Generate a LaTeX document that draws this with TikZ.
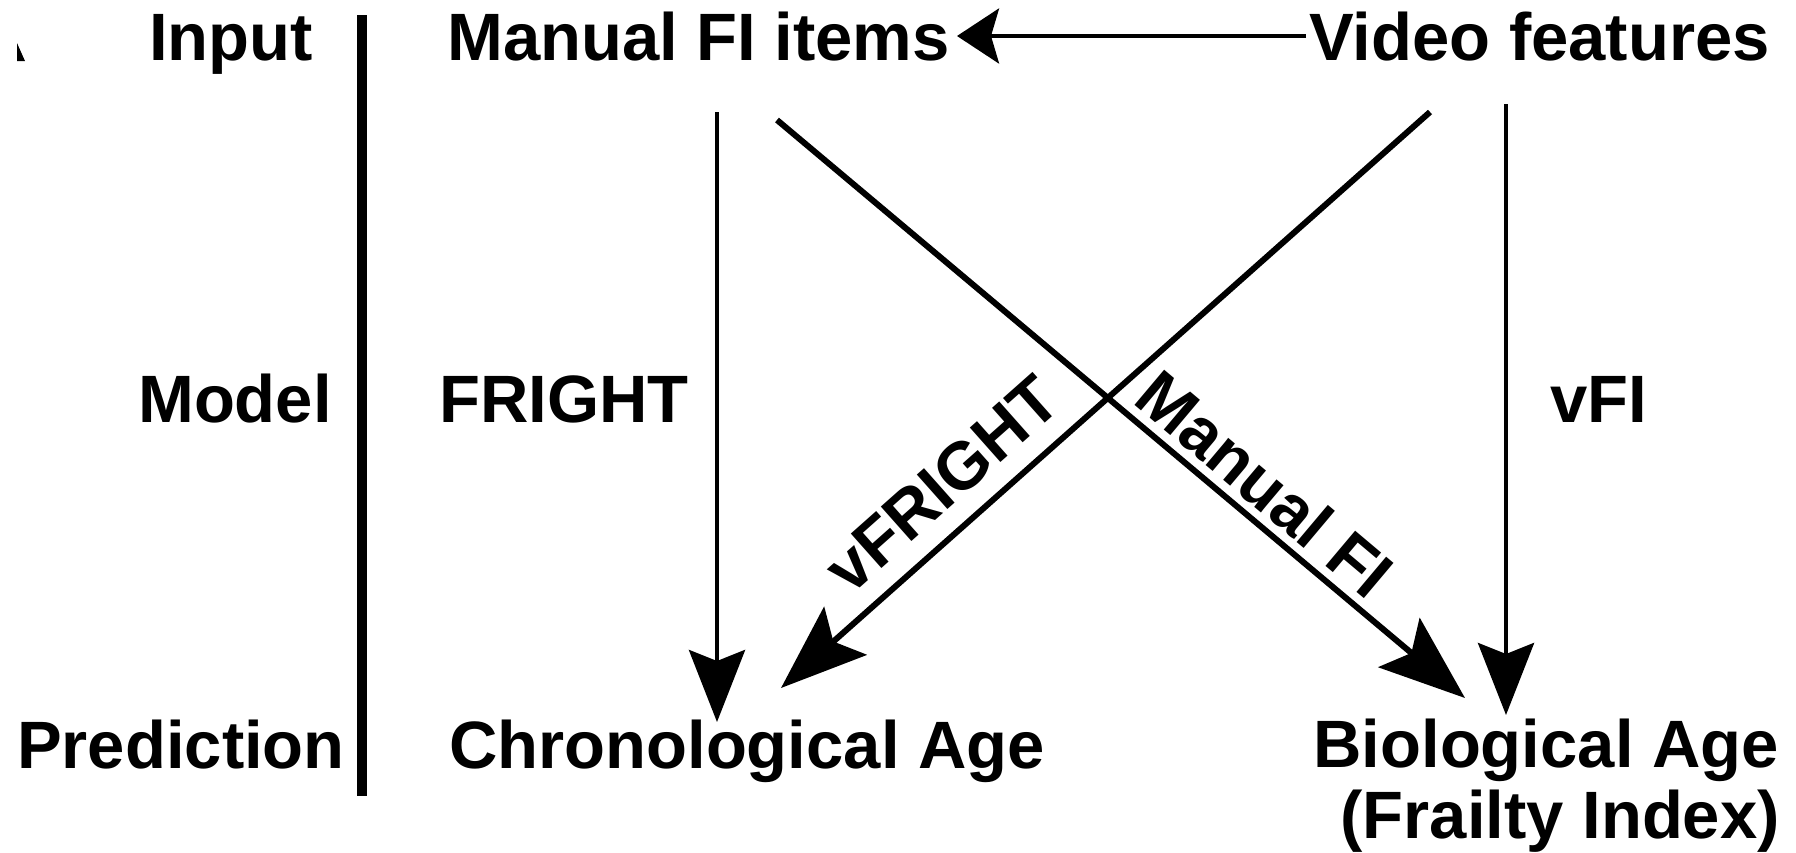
\documentclass[tikz,border=0pt]{standalone}
\usepackage{fontspec}
\setmainfont{Liberation Sans}
\usetikzlibrary{arrows.meta}
\begin{document}
\begin{tikzpicture}[x=1pt,y=-1pt,
  lbl/.style={font=\fontsize{67}{71}\selectfont\bfseries, inner sep=0pt, anchor=base west},
  lblr/.style={font=\fontsize{67}{71}\selectfont\bfseries, inner sep=0pt, anchor=base east},
  rlbl/.style={font=\fontsize{67}{71}\selectfont\bfseries, inner sep=0pt, anchor=center},
  vconn/.style={line width=4.5pt, -{Stealth[length=72pt,width=56pt,inset=11pt]}},
  dconn/.style={line width=6pt, -{Stealth[length=86pt,width=64pt,inset=16pt]}},
  tconn/.style={line width=4pt, -{Stealth[length=42pt,width=55pt,inset=8pt]}}]
\useasboundingbox (0,0) rectangle (1796,852);
\fill[white] (0,0) rectangle (1796,852);
% stray mark
\fill[black] (17,43) -- (17,61) -- (25,61) -- cycle;
% separator
\draw[line width=10pt] (362,15) -- (362,796);
% left column
\node[lbl] (input) at (149,60) {Input};
\node[lbl] (model) at (138,422) {Model};
\node[lbl] (pred) at (17,768) {Prediction};
% main nodes
\node[lbl] (manual) at (447,60) {Manual FI items};
\node[lbl] (video) at (1309,60) {Video features};
\node[lbl] (fright) at (439,422) {FRIGHT};
\node[lbl] (vfi) at (1550,422) {vFI};
\node[lbl] (chrono) at (449,768) {Chronological Age};
\node[lblr] (bio) at (1779,767) {Biological Age};
\node[lblr] (frail) at (1780,838) {(Frailty Index)};
% connector ends
\coordinate (top-s) at (1306,36);
\coordinate (top-e) at (957,36);
\coordinate (fr-s) at (717,112);
\coordinate (fr-e) at (717,722);
\coordinate (vfi-s) at (1506,104);
\coordinate (vfi-e) at (1506,715);
\coordinate (mfi-s) at (777,120);
\coordinate (mfi-e) at (1465,698);
\coordinate (vfr-s) at (1430,112);
\coordinate (vfr-e) at (781,688);
% connectors
\draw[tconn] (top-s) -- (top-e);
\draw[vconn] (fr-s) -- (fr-e);
\draw[vconn] (vfi-s) -- (vfi-e);
\draw[dconn] (mfi-s) -- (mfi-e);
\draw[dconn] (vfr-s) -- (vfr-e);
% rotated labels
\node[rlbl, rotate=41.6] (vfrlbl) at (942,484) {vFRIGHT};
\node[rlbl, rotate=-40.1] (mfilbl) at (1265,484) {Manual FI};
\end{tikzpicture}
\end{document}
